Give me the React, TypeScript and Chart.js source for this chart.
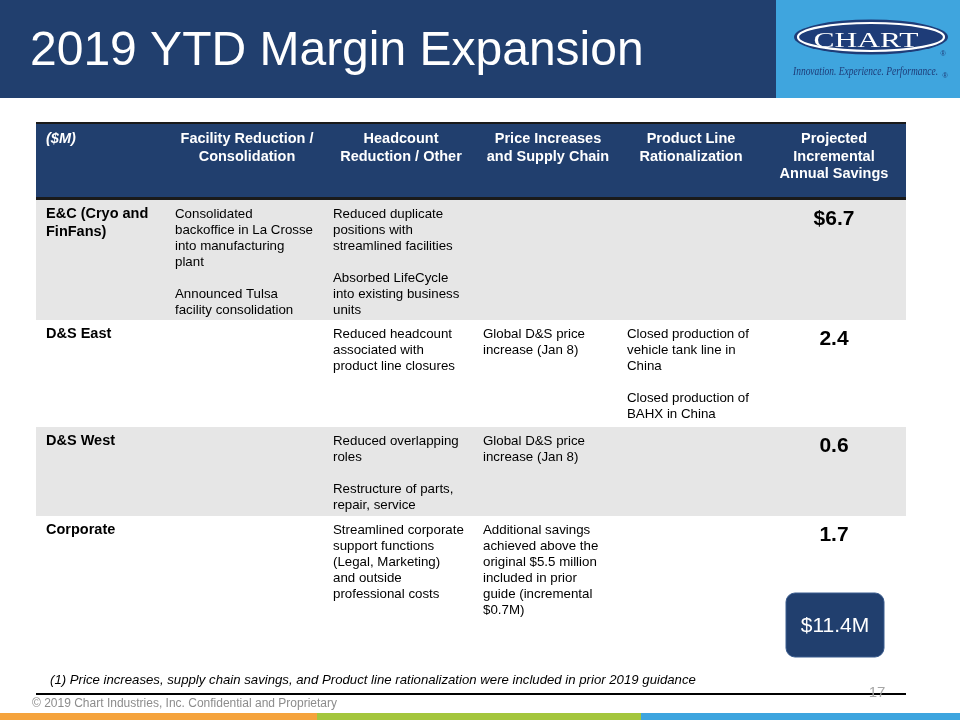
import React, { useEffect, useRef } from "react";
import { Chart, registerables } from "chart.js";

Chart.register(...registerables);

const title = "2019 YTD Margin Expansion";
const columnHeaders: string[][] = [
  ["($M)"],
  ["Facility Reduction /", "Consolidation"],
  ["Headcount", "Reduction / Other"],
  ["Price Increases", "and Supply Chain"],
  ["Product Line", "Rationalization"],
  ["Projected", "Incremental", "Annual Savings"],
];
const rowLabels: string[][] = [["E&C (Cryo and", "FinFans)"], ["D&S East"], ["D&S West"], ["Corporate"]];
const facilityCells: string[][] = [
  ["Consolidated", "backoffice in La Crosse", "into manufacturing", "plant", "", "Announced Tulsa", "facility consolidation"],
  [],
  [],
  [],
];
const headcountCells: string[][] = [
  ["Reduced duplicate", "positions with", "streamlined facilities", "", "Absorbed LifeCycle", "into existing business", "units"],
  ["Reduced headcount", "associated with", "product line closures"],
  ["Reduced overlapping", "roles", "", "Restructure of parts,", "repair, service"],
  ["Streamlined corporate", "support functions", "(Legal, Marketing)", "and outside", "professional costs"],
];
const priceCells: string[][] = [
  [],
  ["Global D&S price", "increase (Jan 8)"],
  ["Global D&S price", "increase (Jan 8)"],
  ["Additional savings", "achieved above the", "original $5.5 million", "included in prior", "guide (incremental", "$0.7M)"],
];
const productCells: string[][] = [
  [],
  ["Closed production of", "vehicle tank line in", "China", "", "Closed production of", "BAHX in China"],
  [],
  [],
];
const savings: number[] = [6.7, 2.4, 0.6, 1.7];
const savingsLabels: string[] = ["$6.7", "2.4", "0.6", "1.7"];
const totalLabel = "$11.4M";
const footnote = "(1) Price increases, supply chain savings, and Product line rationalization were included in prior 2019 guidance";
const copyright = "\u00A9 2019 Chart Industries, Inc. Confidential and Proprietary";
const pageNumber = "17";
const tagline = "Innovation. Experience. Performance.";

const NAVY = "#213F6E";
const LOGO_NAVY = "#1E3C78";
const LIGHTBLUE = "#3FA5DE";
const GREY = "#E6E6E6";
const FONT = "'Liberation Sans', Arial, sans-serif";
const SERIF = "'Liberation Serif', 'Times New Roman', serif";

const colEdges = [36, 168, 326, 476, 620, 762, 906];
const rowTops = [200, 320, 427, 516];
const rowBottoms = [320, 427, 516, 660];

function drawSlide(chart: Chart) {
  const ctx = chart.ctx;
  const W = chart.width;
  ctx.save();
  ctx.fillStyle = "#FFFFFF";
  ctx.fillRect(0, 0, W, chart.height);

  // header band
  ctx.fillStyle = NAVY;
  ctx.fillRect(0, 0, 776, 98);
  ctx.fillStyle = LIGHTBLUE;
  ctx.fillRect(776, 0, W - 776, 98);

  ctx.fillStyle = "#FFFFFF";
  ctx.font = `48px ${FONT}`;
  ctx.textBaseline = "alphabetic";
  ctx.textAlign = "left";
  ctx.fillText(title, 30, 65);

  // logo
  const cx = 871, cy = 37;
  ctx.fillStyle = LOGO_NAVY;
  ctx.beginPath();
  ctx.ellipse(cx, cy, 77, 17.5, 0, 0, Math.PI * 2);
  ctx.fill();
  ctx.strokeStyle = "#FFFFFF";
  ctx.lineWidth = 2.2;
  ctx.beginPath();
  ctx.ellipse(cx, cy, 73, 14, 0, 0, Math.PI * 2);
  ctx.stroke();
  ctx.fillStyle = "#FFFFFF";
  ctx.font = `21px ${SERIF}`;
  ctx.textAlign = "center";
  ctx.textBaseline = "alphabetic";
  {
    const w = ctx.measureText("CHART").width;
    ctx.save();
    ctx.translate(866, 47);
    ctx.scale(105 / w, 1);
    ctx.fillText("CHART", 0, 0);
    ctx.restore();
  }
  ctx.fillStyle = LOGO_NAVY;
  ctx.textBaseline = "middle";
  ctx.font = `italic 12.5px ${SERIF}`;
  {
    const w = ctx.measureText(tagline).width;
    ctx.save();
    ctx.translate(793, 72);
    ctx.scale(145 / w, 1);
    ctx.textAlign = "left";
    ctx.fillText(tagline, 0, 0);
    ctx.restore();
  }
  ctx.font = `7px ${FONT}`;
  ctx.textAlign = "center";
  ctx.fillText("\u00AE", 943, 54);
  ctx.fillText("\u00AE", 945, 76);

  // table header
  ctx.fillStyle = NAVY;
  ctx.fillRect(colEdges[0], 123, colEdges[6] - colEdges[0], 76);
  ctx.fillStyle = "#1A1A1A";
  ctx.fillRect(colEdges[0], 122, colEdges[6] - colEdges[0], 2);
  ctx.fillRect(colEdges[0], 197, colEdges[6] - colEdges[0], 3);

  ctx.fillStyle = "#FFFFFF";
  ctx.textBaseline = "middle";
  columnHeaders.forEach((lines, c) => {
    if (c === 0) {
      ctx.font = `italic bold 14.5px ${FONT}`;
      ctx.textAlign = "left";
      ctx.fillText(lines[0], 46, 139);
    } else {
      ctx.font = `bold 14.5px ${FONT}`;
      ctx.textAlign = "center";
      const mid = (colEdges[c] + colEdges[c + 1]) / 2;
      lines.forEach((l, i) => ctx.fillText(l, mid, 139 + i * 17.5));
    }
  });

  // rows
  const cellCols = [facilityCells, headcountCells, priceCells, productCells];
  rowTops.forEach((top, r) => {
    if (r % 2 === 0) {
      ctx.fillStyle = GREY;
      ctx.fillRect(colEdges[0], top, colEdges[6] - colEdges[0], rowBottoms[r] - top);
    }
    ctx.fillStyle = "#000000";
    ctx.textAlign = "left";
    ctx.font = `bold 14.5px ${FONT}`;
    rowLabels[r].forEach((l, i) => ctx.fillText(l, 46, top + 14 + i * 18));
    ctx.font = `13.3px ${FONT}`;
    cellCols.forEach((col, c) => {
      col[r].forEach((l, i) => {
        if (l) ctx.fillText(l, colEdges[c + 1] + 7, top + 14 + i * 16);
      });
    });
  });

  // savings values placed via dataset
  const meta = chart.getDatasetMeta(0);
  ctx.font = `bold 21px ${FONT}`;
  ctx.textAlign = "center";
  ctx.fillStyle = "#000000";
  meta.data.forEach((_el, i) => {
    const label = savingsLabels[i] ?? String(savings[i]);
    ctx.fillText(label, (colEdges[5] + colEdges[6]) / 2, rowTops[i] + 19);
  });

  // total box
  const bx = 786, by = 593, bw = 98, bh = 64;
  ctx.fillStyle = NAVY;
  ctx.strokeStyle = "#3A5C8E";
  ctx.lineWidth = 1;
  ctx.beginPath();
  ctx.roundRect(bx, by, bw, bh, 9);
  ctx.fill();
  ctx.stroke();
  ctx.fillStyle = "#FFFFFF";
  ctx.font = `21px ${FONT}`;
  ctx.fillText(totalLabel, bx + bw / 2, by + bh / 2 + 1);

  // footnote
  ctx.fillStyle = "#000000";
  ctx.font = `italic 13.2px ${FONT}`;
  ctx.textAlign = "left";
  ctx.fillText(footnote, 50, 680);
  ctx.fillStyle = "#000000";
  ctx.fillRect(36, 693, 870, 2);

  ctx.fillStyle = "#A6A6A6";
  ctx.font = `15px ${FONT}`;
  ctx.textAlign = "center";
  ctx.fillText(pageNumber, 877, 693);

  ctx.fillStyle = "#8C8C8C";
  ctx.font = `12px ${FONT}`;
  ctx.textAlign = "left";
  ctx.fillText(copyright, 32, 704);

  // bottom bars
  ctx.fillStyle = "#F5A33C";
  ctx.fillRect(0, 713, 317, 7);
  ctx.fillStyle = "#A4C63D";
  ctx.fillRect(317, 713, 324, 7);
  ctx.fillStyle = "#3DA5DF";
  ctx.fillRect(641, 713, W - 641, 7);

  ctx.restore();
}

const slidePlugin = {
  id: "slide",
  beforeDraw(chart: Chart) {
    drawSlide(chart);
  },
};

export default function App() {
  const ref = useRef<HTMLCanvasElement | null>(null);
  useEffect(() => {
    document.body.style.margin = "0";
    if (!ref.current) return;
    const chart = new Chart(ref.current, {
      type: "bar",
      data: {
        labels: rowLabels.map((l) => l.join(" ")),
        datasets: [{ data: savings, backgroundColor: "rgba(0,0,0,0)", borderWidth: 0 }],
      },
      options: {
        responsive: false,
        animation: false,
        events: [],
        plugins: { legend: { display: false }, tooltip: { enabled: false } },
        scales: { x: { display: false }, y: { display: false } },
      },
      plugins: [slidePlugin],
    });
    return () => chart.destroy();
  }, []);
  return <canvas ref={ref} width={960} height={720} style={{ display: "block" }} />;
}
